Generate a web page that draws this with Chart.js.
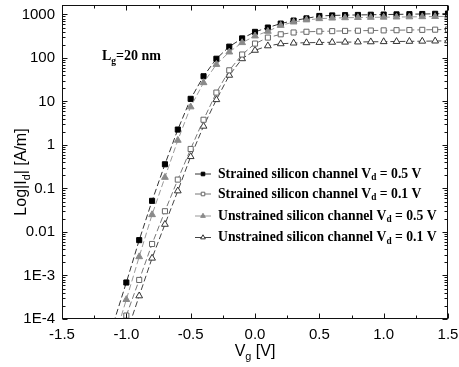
<!DOCTYPE html>
<html>
<head>
<meta charset="utf-8">
<script src="https://cdn.jsdelivr.net/npm/chart.js@4.4.1/dist/chart.umd.min.js"></script>
<style>
  html, body { margin: 0; padding: 0; background: #fff; }
</style>
</head>
<body>
<canvas id="ivChart" width="459" height="367"></canvas>
<script>
// Gate voltage sweep (V)
const vgValues = [-1.1, -1.0, -0.9, -0.8, -0.7, -0.6, -0.5, -0.4, -0.3, -0.2, -0.1, 0.0, 0.1,
  0.2, 0.3, 0.4, 0.5, 0.6, 0.7, 0.8, 0.9, 1.0, 1.1, 1.2, 1.3, 1.4, 1.5];

// Drain current |Id| (A/m)
const strained05 = [8e-5, 6.9e-4, 6.5e-3, 0.052, 0.36, 2.26, 11.5, 38, 96, 182, 282, 398, 500,
  617, 724, 813, 923, 950, 965, 975, 985, 995, 1005, 1015, 1025, 1035, 1050];
const strained01 = [2e-5, 1.2e-4, 7.9e-4, 5.3e-3, 0.030, 0.16, 0.81, 3.8, 16, 52, 120, 214, 294,
  350, 385, 400, 408, 414, 419, 423, 427, 431, 435, 439, 443, 447, 452];
const unstrained05 = [3e-5, 2.8e-4, 2.7e-3, 0.025, 0.18, 1.28, 7.5, 27, 71, 137, 225, 320, 410,
  560, 670, 750, 800, 825, 840, 850, 858, 865, 872, 880, 887, 895, 905];
const unstrained01 = [5e-6, 4.5e-5, 3.4e-4, 2.5e-3, 0.015, 0.088, 0.54, 2.7, 11, 40, 96, 150, 190,
  212, 220, 224, 227, 229, 231, 233, 235, 237, 239, 241, 243, 245, 248];

// Axis ticks
const xTicks = [-1.5, -1.0, -0.5, 0.0, 0.5, 1.0, 1.5];
const yTicks = [1e-4, 1e-3, 0.01, 0.1, 1, 10, 100, 1000];
const yTickLabels = ['1E-4', '1E-3', '0.01', '0.1', '1', '10', '100', '1000'];

// Legend texts
const channelNames = ['Strained silicon channel', 'Strained silicon channel',
  'Unstrained silicon channel', 'Unstrained silicon channel'];
const drainVoltages = ['0.5', '0.1', '0.5', '0.1'];

const SANS = '"Liberation Sans", Arial, sans-serif';
const SERIF = '"Liberation Serif", "Times New Roman", serif';

function toPoints(values) {
  return vgValues.map((v, i) => ({x: v, y: values[i]}));
}

// draw text made of pieces, some of them subscripts; returns width
function richText(ctx, parts, x, y, size, family, weight, measureOnly) {
  let cx = x;
  parts.forEach(p => {
    const s = p.sub ? size * 0.68 : size;
    ctx.font = weight + ' ' + s + 'px ' + family;
    if (!measureOnly) ctx.fillText(p.t, cx, p.sub ? y + size * 0.28 : y);
    cx += ctx.measureText(p.t).width;
  });
  return cx - x;
}

const decorations = {
  id: 'decorations',
  afterDraw(chart) {
    const {ctx, chartArea: a, scales: {x, y}} = chart;
    ctx.save();
    ctx.strokeStyle = '#111';
    ctx.fillStyle = '#000';
    ctx.lineWidth = 1;
    const L = Math.round(a.left) + 0.5, R = Math.round(a.right) - 0.5;
    const T = Math.round(a.top) + 0.5, B = Math.round(a.bottom) - 0.5;
    ctx.strokeRect(L, T, R - L, B - T);

    // x ticks, inward on bottom and top
    ctx.beginPath();
    xTicks.forEach((v, i) => {
      const px = Math.round(x.getPixelForValue(v)) + 0.5;
      ctx.moveTo(px, B); ctx.lineTo(px, B - 5);
      ctx.moveTo(px, T); ctx.lineTo(px, T + 5);
      if (i < xTicks.length - 1) {
        const mx = Math.round(x.getPixelForValue((v + xTicks[i + 1]) / 2)) + 0.5;
        ctx.moveTo(mx, B); ctx.lineTo(mx, B - 3);
        ctx.moveTo(mx, T); ctx.lineTo(mx, T + 3);
      }
    });
    // y ticks, inward on left and right
    yTicks.forEach(v => {
      const py = Math.round(y.getPixelForValue(v)) + 0.5;
      ctx.moveTo(L, py); ctx.lineTo(L + 5, py);
      ctx.moveTo(R, py); ctx.lineTo(R - 5, py);
      for (let k = 2; k <= 9; k++) {
        if (k * v > y.max) break;
        const my = Math.round(y.getPixelForValue(k * v)) + 0.5;
        ctx.moveTo(L, my); ctx.lineTo(L + 3, my);
        ctx.moveTo(R, my); ctx.lineTo(R - 3, my);
      }
    });
    ctx.stroke();

    // x axis title: Vg [V]
    ctx.textBaseline = 'alphabetic';
    const xt = [{t: 'V'}, {t: 'g', sub: true}, {t: ' [V]'}];
    const xw = richText(ctx, xt, 0, 0, 16, SANS, 'normal', true);
    richText(ctx, xt, (a.left + a.right) / 2 - xw / 2, 356, 16, SANS, 'normal');

    // y axis title: Log|Id| [A/m]
    const yt = [{t: 'Log|I'}, {t: 'd', sub: true}, {t: '| [A/m]'}];
    const yw = richText(ctx, yt, 0, 0, 16, SANS, 'normal', true);
    ctx.save();
    ctx.translate(26, 172);
    ctx.rotate(-Math.PI / 2);
    richText(ctx, yt, -yw / 2, 0, 16, SANS, 'normal');
    ctx.restore();

    // gate length note
    richText(ctx, [{t: 'L'}, {t: 'g', sub: true}, {t: '=20 nm'}], 102, 60, 14, SERIF, 'bold');

    // legend
    const legendRows = [174, 194, 216, 237.5];
    chart.data.datasets.forEach((ds, i) => {
      const ly = legendRows[i];
      ctx.strokeStyle = ds.borderColor;
      ctx.lineWidth = 1;
      ctx.beginPath();
      ctx.moveTo(195, ly); ctx.lineTo(211, ly);
      ctx.stroke();
      ctx.fillStyle = ds.pointBackgroundColor;
      ctx.strokeStyle = ds.pointBorderColor;
      Chart.helpers.drawPoint(ctx, {pointStyle: ds.pointStyle, radius: ds.pointRadius * 0.7,
        borderWidth: 1, rotation: 0}, 203, ly);
      ctx.fillStyle = '#000';
      ctx.textBaseline = 'middle';
      richText(ctx, [{t: channelNames[i] + ' V'}, {t: 'd', sub: true},
        {t: ' = ' + drainVoltages[i] + ' V'}], 218, ly, 13.7, SERIF, 'bold');
    });
    ctx.restore();
  }
};

const lineBase = {
  borderWidth: 1,
  borderDash: [6, 3],
  tension: 0,
  pointBorderWidth: 1,
  pointHoverRadius: 4
};

new Chart(document.getElementById('ivChart'), {
  type: 'line',
  data: {
    datasets: [
      Object.assign({}, lineBase, {
        label: 'Strained silicon channel Vd = 0.5 V',
        data: toPoints(strained05),
        borderColor: '#333',
        pointStyle: 'rect', pointRadius: 3.6,
        pointBackgroundColor: '#000', pointBorderColor: '#000',
        order: 2
      }),
      Object.assign({}, lineBase, {
        label: 'Strained silicon channel Vd = 0.1 V',
        data: toPoints(strained01),
        borderColor: '#777',
        pointStyle: 'rect', pointRadius: 3.6,
        pointBackgroundColor: '#fff', pointBorderColor: '#666',
        order: 3
      }),
      Object.assign({}, lineBase, {
        label: 'Unstrained silicon channel Vd = 0.5 V',
        data: toPoints(unstrained05),
        borderColor: '#999',
        pointStyle: 'triangle', pointRadius: 3.9,
        pointBackgroundColor: '#8a8a8a', pointBorderColor: '#8a8a8a',
        order: 1
      }),
      Object.assign({}, lineBase, {
        label: 'Unstrained silicon channel Vd = 0.1 V',
        data: toPoints(unstrained01),
        borderColor: '#444',
        pointStyle: 'triangle', pointRadius: 3.9,
        pointBackgroundColor: '#fff', pointBorderColor: '#333',
        order: 4
      })
    ]
  },
  options: {
    responsive: false,
    animation: false,
    layout: {padding: {top: 5, right: 11, left: 0, bottom: 0}},
    plugins: {legend: {display: false}, tooltip: {enabled: false}},
    scales: {
      x: {
        type: 'linear',
        min: -1.5,
        max: 1.5,
        grid: {display: false, drawTicks: false},
        border: {display: false},
        afterBuildTicks: s => { s.ticks = xTicks.map(v => ({value: v})); },
        afterFit: s => { s.height = 48; s.paddingLeft = 0; s.paddingRight = 0; },
        ticks: {
          padding: 7,
          color: '#000',
          font: {family: SANS, size: 15},
          maxRotation: 0,
          autoSkip: false,
          callback: v => v.toFixed(1)
        }
      },
      y: {
        type: 'logarithmic',
        min: 1e-4,
        max: 1650,
        grid: {display: false, drawTicks: false},
        border: {display: false},
        afterBuildTicks: s => { s.ticks = yTicks.map(v => ({value: v})); },
        afterFit: s => { s.width = 62; s.paddingTop = 0; s.paddingBottom = 0; },
        ticks: {
          padding: 7,
          color: '#000',
          font: {family: SANS, size: 15},
          autoSkip: false,
          callback: (v, i) => yTickLabels[i]
        }
      }
    }
  },
  plugins: [decorations]
});
</script>
</body>
</html>
